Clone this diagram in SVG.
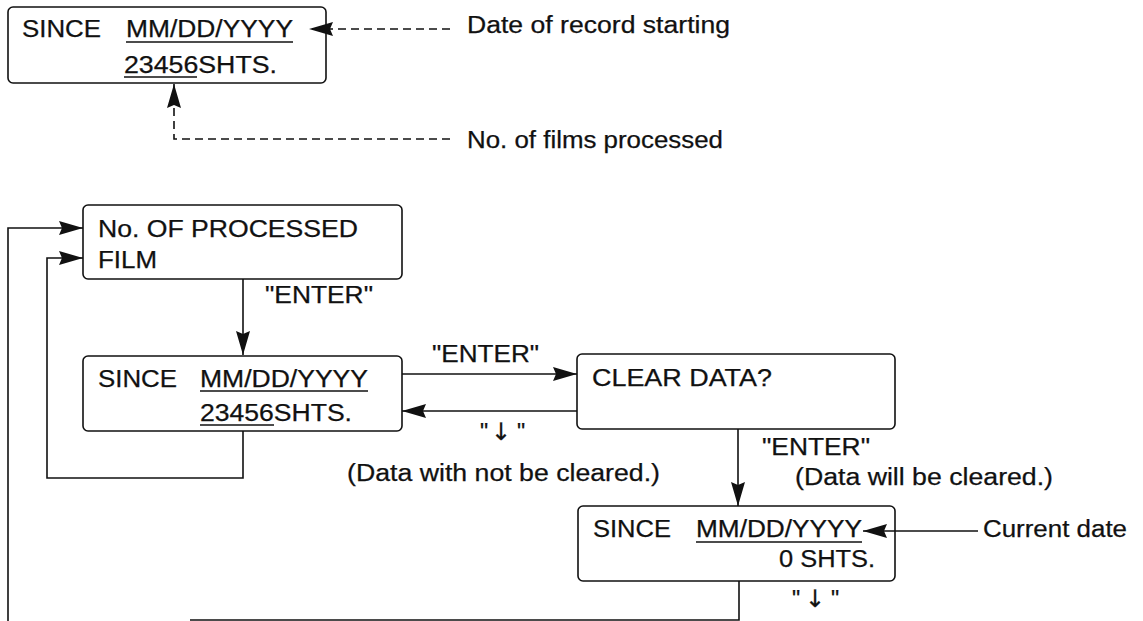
<svg xmlns="http://www.w3.org/2000/svg" width="1143" height="621" viewBox="0 0 1143 621">
<style>
.box{fill:#fff;stroke:#111;stroke-width:1.6}
.t{font-family:"Liberation Sans",Arial,sans-serif;font-size:23px;fill:#111;stroke:#111;stroke-width:0.25}
.ar{font-family:"DejaVu Sans",sans-serif;font-size:24px;fill:#111}
.ul{stroke:#111;stroke-width:1.5}
.c{fill:none;stroke:#111;stroke-width:1.6}
.d{fill:none;stroke:#111;stroke-width:1.6;stroke-dasharray:8 5}
</style>
<defs>
<marker id="ah" markerUnits="userSpaceOnUse" markerWidth="26" markerHeight="16" refX="24" refY="7" orient="auto" viewBox="0 0 26 16">
<path d="M0,0 L24,7 L0,14 L3,7 z" fill="#111" stroke="none"/>
</marker>
</defs>
<rect width="1143" height="621" fill="#fff"/>

<g id="node-legend">
<rect class="box" x="8" y="7" width="318" height="76" rx="5"/>
<text class="t" x="22" y="37" textLength="79" lengthAdjust="spacingAndGlyphs">SINCE</text>
<text class="t" x="126" y="37" textLength="167" lengthAdjust="spacingAndGlyphs">MM/DD/YYYY</text>
<line class="ul" x1="126" y1="42" x2="293" y2="42"/>
<text class="t" x="124" y="73" textLength="153" lengthAdjust="spacingAndGlyphs">23456SHTS.</text>
<line class="ul" x1="124" y1="77" x2="197" y2="77"/>
</g>

<g id="node-processed-film">
<rect class="box" x="83" y="205" width="319" height="74" rx="5"/>
<text class="t" x="98" y="237" textLength="260" lengthAdjust="spacingAndGlyphs">No. OF PROCESSED</text>
<text class="t" x="98" y="268" textLength="59" lengthAdjust="spacingAndGlyphs">FILM</text>
</g>

<g id="node-since">
<rect class="box" x="83" y="356" width="319" height="75" rx="5"/>
<text class="t" x="98" y="387" textLength="79" lengthAdjust="spacingAndGlyphs">SINCE</text>
<text class="t" x="200" y="387" textLength="168" lengthAdjust="spacingAndGlyphs">MM/DD/YYYY</text>
<line class="ul" x1="200" y1="391" x2="368" y2="391"/>
<text class="t" x="200" y="421" textLength="152" lengthAdjust="spacingAndGlyphs">23456SHTS.</text>
<line class="ul" x1="200" y1="425" x2="274" y2="425"/>
</g>

<g id="node-clear">
<rect class="box" x="577" y="354" width="318" height="75" rx="5"/>
<text class="t" x="592" y="386" textLength="180" lengthAdjust="spacingAndGlyphs">CLEAR DATA?</text>
</g>

<g id="node-since-cleared">
<rect class="box" x="578" y="506" width="317" height="75" rx="5"/>
<text class="t" x="593" y="537" textLength="78" lengthAdjust="spacingAndGlyphs">SINCE</text>
<text class="t" x="696" y="537" textLength="166" lengthAdjust="spacingAndGlyphs">MM/DD/YYYY</text>
<line class="ul" x1="696" y1="542" x2="862" y2="542"/>
<text class="t" x="779" y="567" textLength="96" lengthAdjust="spacingAndGlyphs">0 SHTS.</text>
</g>

<g id="connectors">
<path class="d" d="M450,29 H309" marker-end="url(#ah)"/>
<path class="d" d="M450,139 H174 V84" marker-end="url(#ah)"/>
<path class="c" d="M8,621 V228 H83" marker-end="url(#ah)"/>
<path class="c" d="M243,431 V478 H47 V258 H83" marker-end="url(#ah)"/>
<path class="c" d="M243,279 V355" marker-end="url(#ah)"/>
<path class="c" d="M402,374 H577" marker-end="url(#ah)"/>
<path class="c" d="M577,411 H402" marker-end="url(#ah)"/>
<path class="c" d="M738,429 V506" marker-end="url(#ah)"/>
<path class="c" d="M978,531 H863" marker-end="url(#ah)"/>
<path class="c" d="M739,581 V620 H190"/>
<text class="t" x="265" y="303" textLength="108" lengthAdjust="spacingAndGlyphs">"ENTER"</text>
<text class="t" x="432" y="362" textLength="107" lengthAdjust="spacingAndGlyphs">"ENTER"</text>
<text class="t" y="440" text-anchor="middle"><tspan x="484">"</tspan><tspan class="ar" x="501">↓</tspan><tspan x="521">"</tspan></text>
<text class="t" x="347" y="481" textLength="313" lengthAdjust="spacingAndGlyphs">(Data with not be cleared.)</text>
<text class="t" x="762" y="455" textLength="108" lengthAdjust="spacingAndGlyphs">"ENTER"</text>
<text class="t" x="795" y="485" textLength="258" lengthAdjust="spacingAndGlyphs">(Data will be cleared.)</text>
<text class="t" y="607" text-anchor="middle"><tspan x="796">"</tspan><tspan class="ar" x="815">↓</tspan><tspan x="835">"</tspan></text>
<text class="t" x="467" y="33" textLength="263" lengthAdjust="spacingAndGlyphs">Date of record starting</text>
<text class="t" x="467" y="148" textLength="256" lengthAdjust="spacingAndGlyphs">No. of films processed</text>
<text class="t" x="983" y="537" textLength="144" lengthAdjust="spacingAndGlyphs">Current date</text>
</g>
</svg>
